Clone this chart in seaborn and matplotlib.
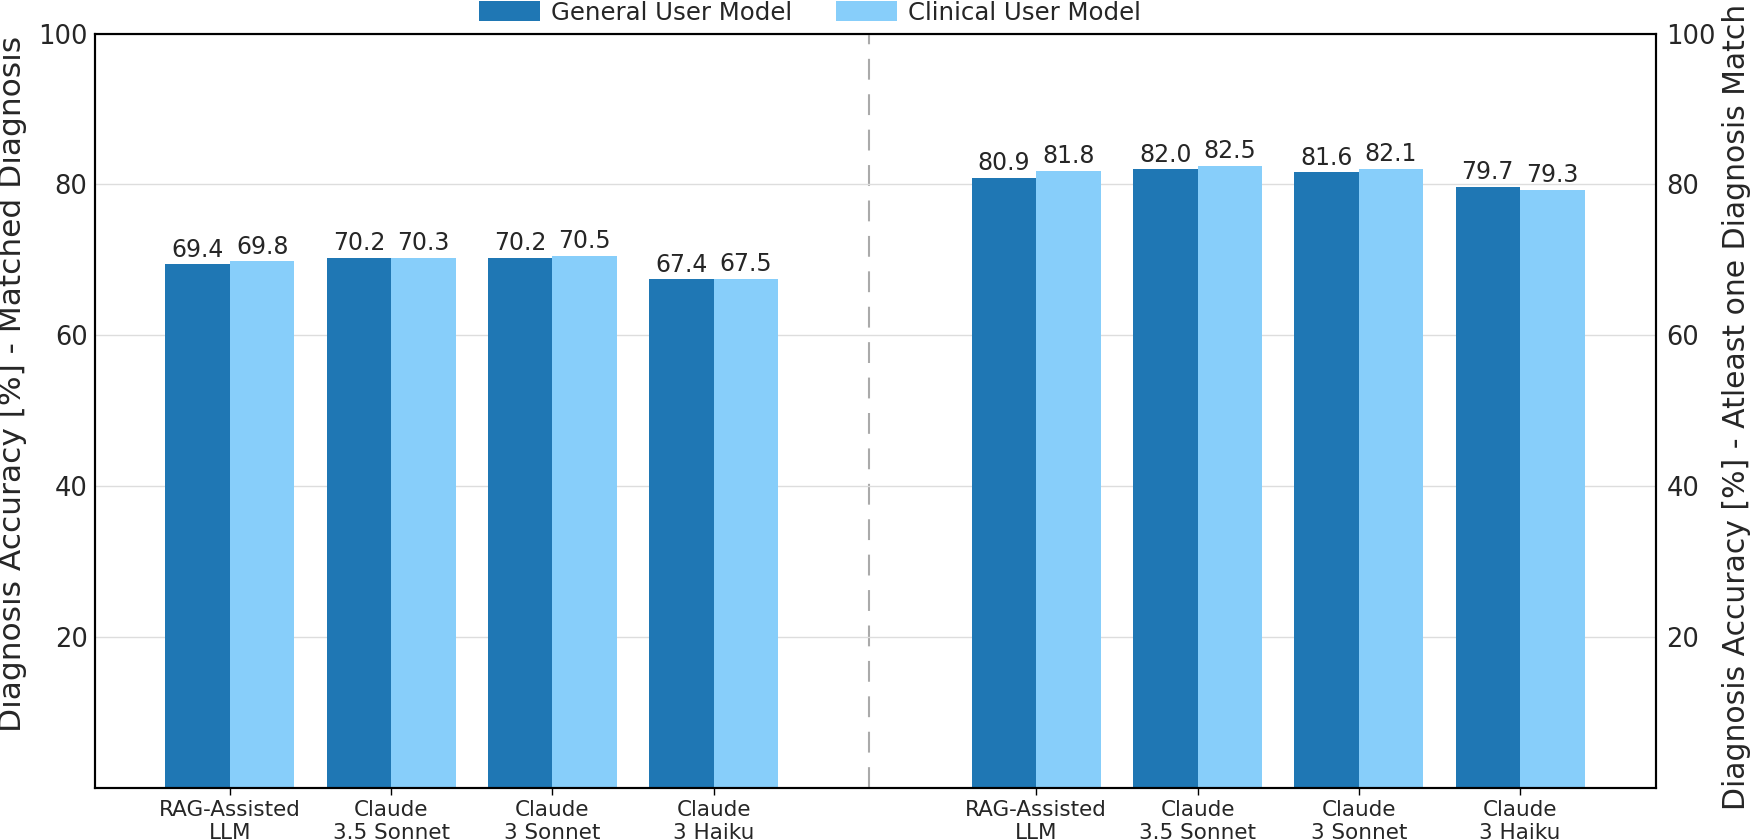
import matplotlib
matplotlib.use("Agg")
import matplotlib.pyplot as plt
import pandas as pd
import seaborn as sns

# ---- data ----
models = ["RAG-Assisted\nLLM", "Claude\n3.5 Sonnet", "Claude\n3 Sonnet", "Claude\n3 Haiku"]
series = ["General User Model", "Clinical User Model"]
matched_general = [69.4, 70.2, 70.2, 67.4]
matched_clinical = [69.8, 70.3, 70.5, 67.5]
atleast_general = [80.9, 82.0, 81.6, 79.7]
atleast_clinical = [81.8, 82.5, 82.1, 79.3]
yticks = [20, 40, 60, 80, 100]

left_slots = ["M0", "M1", "M2", "M3"]
right_slots = ["A0", "A1", "A2", "A3"]
order = left_slots + ["gap"] + right_slots

rows = []
for i in range(len(models)):
    rows.append((left_slots[i], series[0], matched_general[i]))
    rows.append((left_slots[i], series[1], matched_clinical[i]))
    rows.append((right_slots[i], series[0], atleast_general[i]))
    rows.append((right_slots[i], series[1], atleast_clinical[i]))
df = pd.DataFrame(rows, columns=["slot", "series", "value"])

sns.set_style("white")
plt.rcParams["font.family"] = ["DejaVu Sans"]

fig = plt.figure(figsize=(17.5, 8.4), dpi=100)
ax = fig.add_axes([0.054, 0.0625, 0.892, 0.8975])

sns.barplot(data=df, x="slot", y="value", hue="series", order=order,
            hue_order=series, palette=["#1f77b4", "#87cefa"], saturation=1,
            width=0.8, dodge=True, linewidth=0, errorbar=None, ax=ax)

for c in ax.containers:
    ax.bar_label(c, fmt="%.1f", padding=2, fontsize=17)

handles, labels = ax.get_legend_handles_labels()
if ax.get_legend() is not None:
    ax.get_legend().remove()

ax.set_xlim(-0.84, 8.84)
ax.set_ylim(0, 100)
ax.set_yticks(yticks)
ax.set_xticks([0, 1, 2, 3, 5, 6, 7, 8])
ax.set_xticklabels(models * 2, fontsize=15.5)
ax.set_xlabel("")
ax.tick_params(axis="x", length=5, width=1, color="black", pad=4, bottom=True)
ax.tick_params(axis="y", length=0, pad=5, labelsize=18.5)
ax.set_axisbelow(True)
ax.yaxis.grid(True, color="#dddddd", linewidth=1)
ax.set_ylabel("Diagnosis Accuracy [%] - Matched Diagnosis", fontsize=22.5,
              labelpad=8, y=0.535)

ax.axvline(3.96, color="#aaaaaa", linestyle=(0, (10, 7)), linewidth=1.5, zorder=0.5)

ax2 = ax.twinx()
ax2.set_ylim(0, 100)
ax2.set_yticks(yticks)
ax2.tick_params(axis="y", length=0, pad=8, labelsize=18.5)
ax2.set_ylabel("Diagnosis Accuracy [%] - Atleast one Diagnosis Match", fontsize=21.5,
               labelpad=4, y=0.505)

for a in (ax, ax2):
    for s in a.spines.values():
        s.set_color("black")
        s.set_linewidth(1.5)

fig.legend(handles, labels, loc="center", bbox_to_anchor=(0.463, 0.985), ncol=2,
           frameon=False, fontsize=17.6, handlelength=2.5, handleheight=0.9,
           handletextpad=0.45, columnspacing=1.8, borderpad=0)

fig.savefig("out.png", dpi=100)
